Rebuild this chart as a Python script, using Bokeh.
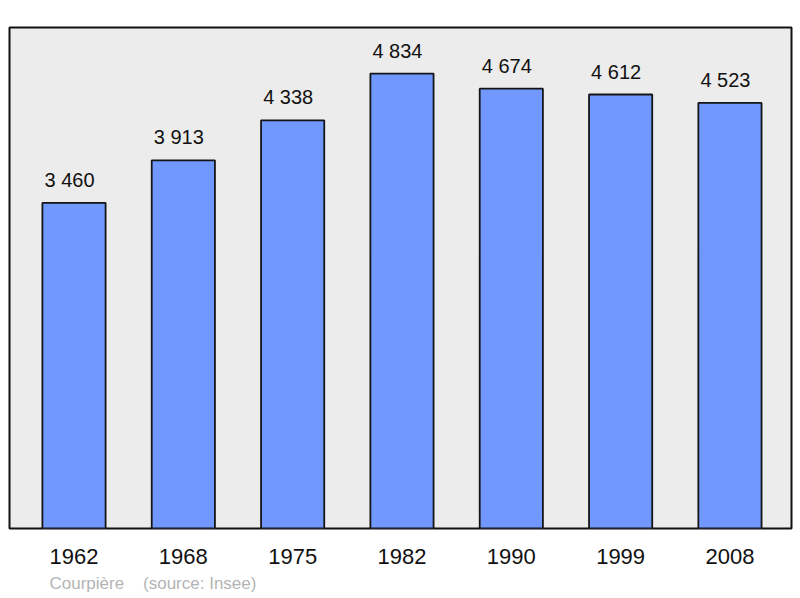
from bokeh.plotting import figure
from bokeh.models import ColumnDataSource, LabelSet, Title, FixedTicker, Range1d
from bokeh.core.properties import value
from bokeh.embed import file_html
from bokeh.resources import INLINE

years = ["1962", "1968", "1975", "1982", "1990", "1999", "2008"]
population = [3460, 3913, 4338, 4834, 4674, 4612, 4523]
value_labels = ["3 460", "3 913", "4 338", "4 834", "4 674", "4 612", "4 523"]
town = "Courpière"
source_note = "(source: Insee)"

xs = list(range(len(years)))
src = ColumnDataSource(dict(x=xs, top=population, lab=value_labels))

FONT = "Liberation Sans"

p = figure(width=800, height=598, output_backend="svg", toolbar_location=None,
           x_range=Range1d(-0.59, 6.563), y_range=Range1d(0, 5324),
           min_border_left=9, min_border_right=9, min_border_top=27, min_border_bottom=70)
p.background_fill_color = "#ececec"
p.border_fill_color = "white"
p.outline_line_color = "#111111"
p.outline_line_width = 2
p.grid.visible = False
p.yaxis.visible = False

p.vbar(x="x", top="top", width=0.578, bottom=0, source=src,
       fill_color="#7098ff", line_color="#151515", line_width=1.8)

labels = LabelSet(x="x", y="top", text="lab", source=src, text_align="center",
                  text_baseline="alphabetic", y_offset=16, x_offset=-4.5,
                  text_font=value(FONT), text_font_size=value("20px"), text_color=value("#111111"))
p.add_layout(labels)

ax = p.xaxis[0]
ax.ticker = FixedTicker(ticks=xs)
ax.major_label_overrides = {i: y for i, y in zip(xs, years)}
ax.axis_line_color = None
ax.major_tick_line_color = None
ax.minor_tick_line_color = None
ax.major_label_text_font = FONT
ax.major_label_text_font_size = "22px"
ax.major_label_text_color = "#111111"
ax.major_label_standoff = 14

note = Title(text=town + "\u00a0" * 4 + source_note, align="left", offset=40,
             standoff=11, text_font=FONT, text_font_size="17px", text_font_style="normal",
             text_color="#b4b4b4")
p.add_layout(note, "below")

open("out.html", "w").write(file_html(p, INLINE))
